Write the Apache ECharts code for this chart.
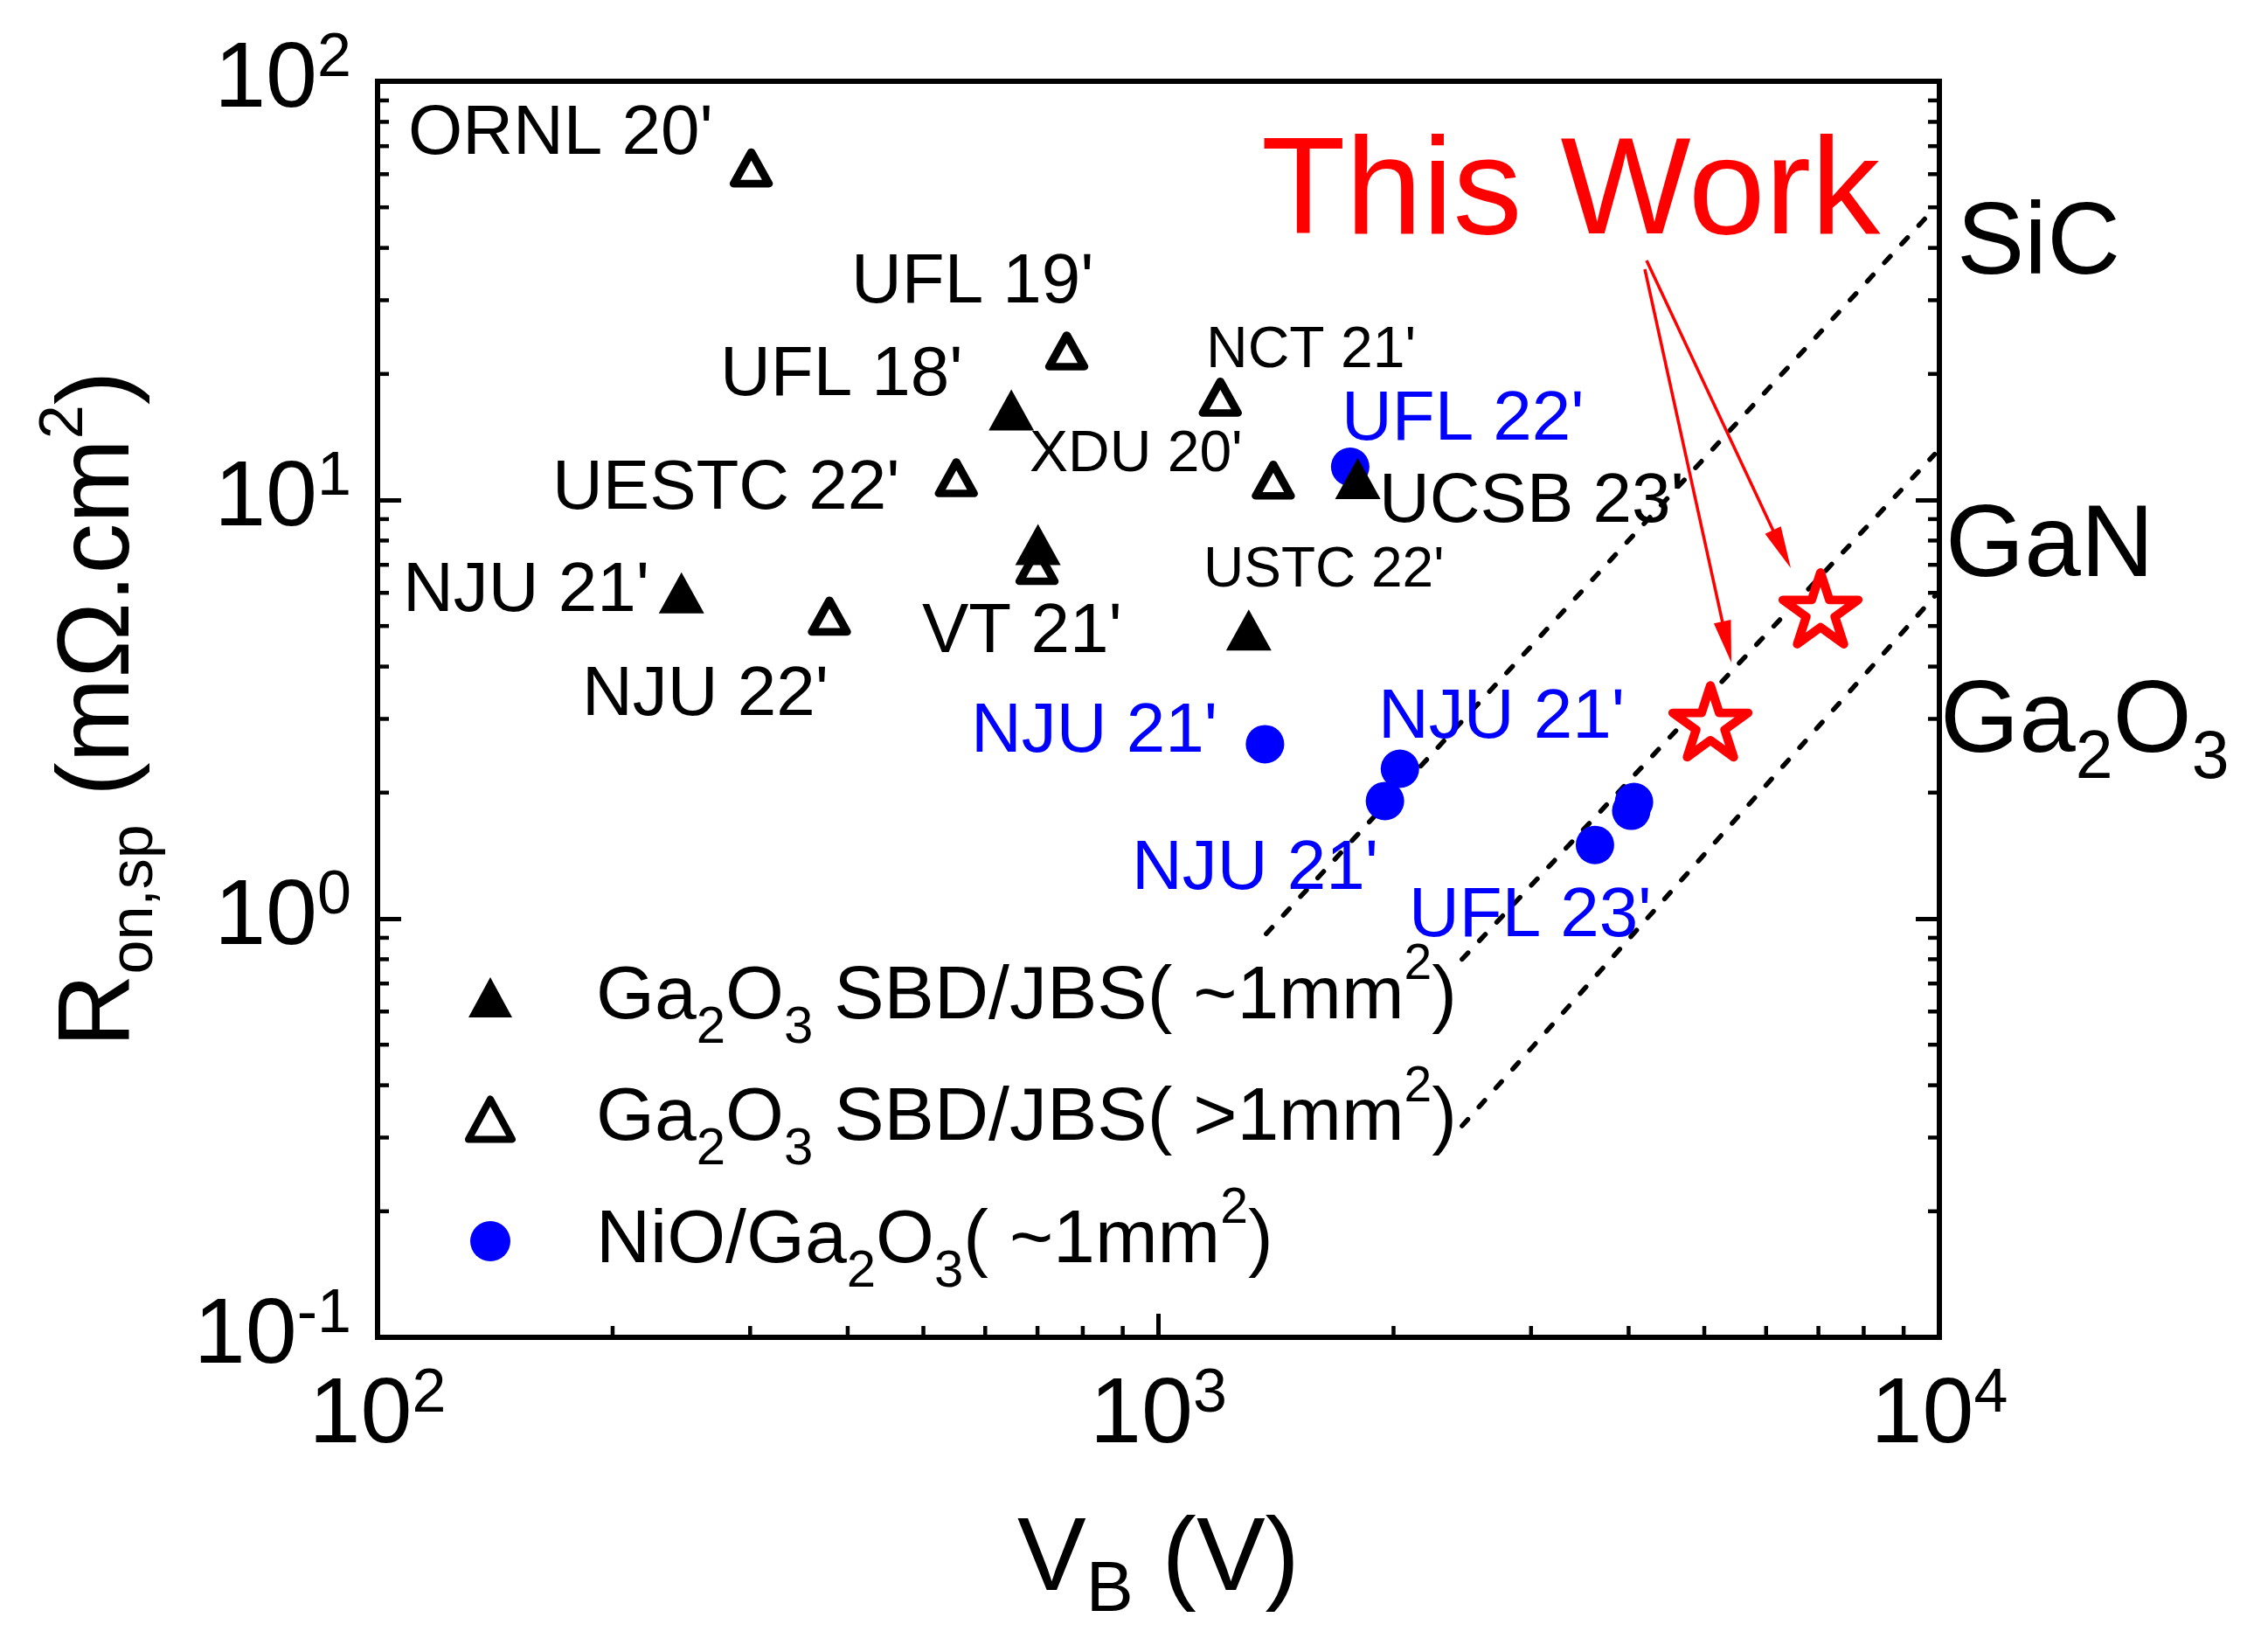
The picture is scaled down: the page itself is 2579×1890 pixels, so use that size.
<!DOCTYPE html>
<html><head><meta charset="utf-8">
<script src="https://cdn.jsdelivr.net/npm/echarts@6/dist/echarts.min.js"></script>
<style>html,body{margin:0;padding:0;background:#fff}#c{width:2579px;height:1890px}</style>
</head><body><div id="c"></div>
<script>
const FONT = '"Liberation Sans", Arial, Helvetica, sans-serif';

// ---------------- data ----------------
const seriesNames = ['Ga\u2082O\u2083 SBD/JBS( ~1mm\u00b2)', 'Ga\u2082O\u2083 SBD/JBS( >1mm\u00b2)', 'NiO/Ga\u2082O\u2083( ~1mm\u00b2)'];
const legendRichText = ['Ga{sub|2}O{sub|3} SBD/JBS( ~1mm{sup|2})', 'Ga{sub|2}O{sub|3} SBD/JBS( >1mm{sup|2})', 'NiO/Ga{sub|2}O{sub|3}( ~1mm{sup|2})'];

// filled triangles: Ga2O3 SBD/JBS (~1mm2)  [NJU21, UFL18, (VT21 area), USTC22, UCSB23]
const filledTriV = [245, 648, 701, 1305, 1800];
const filledTriR = [6.0, 16.4, 7.83, 4.89, 11.25];
// hollow triangles: Ga2O3 SBD/JBS (>1mm2) [ORNL20, UFL19, NCT21, UESTC22, XDU20, VT21, NJU22]
const hollowTriV = [301, 763, 1200, 551, 1403, 699, 379];
const hollowTriR = [62.1, 22.7, 17.6, 11.3, 11.15, 6.97, 5.28];
// NiO/Ga2O3 (~1mm2)
const nioV = [1760, 1369, 2038, 1950, 4064, 4031, 3622];
const nioR = [12.0, 2.61, 2.28, 1.91, 1.90, 1.81, 1.50];
// This work
const thisWorkV = [5091, 7044];
const thisWorkR = [2.96, 5.51];
// material limit lines (end points)
const sicLimitV = [1374, 9607];
const sicLimitR = [0.920, 47.2];
const ganLimitV = [2448, 9863];
const ganLimitR = [0.80, 12.86];
const ga2o3LimitV = [2448, 9863];
const ga2o3LimitR = [0.32, 5.89];

// axis tick values
const xMajorTicks = [100, 1000, 10000];
const yMajorTicks = [0.1, 1, 10, 100];

// ---------------- helpers ----------------
const zip = (a, b) => a.map((v, i) => [v, b[i]]);
function minorValues(ticks) {
  const out = [];
  for (let i = 0; i < ticks.length - 1; i++) {
    for (let k = 2; k <= 9; k++) out.push(parseFloat((ticks[i] * k).toPrecision(6)));
  }
  return out;
}
const xMinor = minorValues(xMajorTicks);
const yMinor = minorValues(yMajorTicks);
const xMin = xMajorTicks[0], xMax = xMajorTicks[xMajorTicks.length - 1];
const yMin = yMajorTicks[0], yMax = yMajorTicks[yMajorTicks.length - 1];
const MINOR_LEN = 13;

const expLabel = v => '{b|10}{s|' + Math.round(Math.log10(v)) + '}';
const tickRich = {
  b: { fontSize: 106, fontFamily: FONT, color: '#000', lineHeight: 120, verticalAlign: 'middle' },
  s: { fontSize: 70, fontFamily: FONT, color: '#000', lineHeight: 56, verticalAlign: 'top' }
};
const lineBase = { color: '#000', width: 6, cap: 'square' };
const starPath = 'path://M50,0L61.23,34.55L97.55,34.55L68.17,55.9L79.39,90.45L50,69.1L20.61,90.45L31.83,55.9L2.45,34.55L38.77,34.55Z';

function limitLine(v, r) {
  return {
    type: 'line', data: zip(v, r), xAxisIndex: 0, yAxisIndex: 0,
    symbol: 'none', showSymbol: false, silent: true, z: 1,
    lineStyle: { color: '#000', width: 5.5, type: [10, 19], cap: 'round' }
  };
}

// annotations [text, left, centerY, fontSize, color]
const annotations = [
  ["ORNL 20'", 467, 148, 80, '#000'],
  ["UFL 19'", 974, 318, 80, '#000'],
  ["UFL 18'", 824, 424, 80, '#000'],
  ["NCT 21'", 1380, 397, 66, '#000'],
  ["UFL 22'", 1535, 475, 80, '#0000FF'],
  ["XDU 20'", 1178, 516, 66, '#000'],
  ["UESTC 22'", 632, 554, 80, '#000'],
  ["UCSB 23'", 1578, 569, 80, '#000'],
  ["NJU 21'", 461, 671, 80, '#000'],
  ["USTC 22'", 1377, 649, 64, '#000'],
  ["VT 21'", 1055, 718, 80, '#000'],
  ["NJU 22'", 666, 790, 80, '#000'],
  ["NJU 21'", 1111, 832, 80, '#0000FF'],
  ["NJU 21'", 1577, 816, 80, '#0000FF'],
  ["NJU 21'", 1295, 989, 80, '#0000FF'],
  ["UFL 23'", 1612, 1043, 80, '#0000FF'],
  ["This Work", 1443, 212, 158, '#FF0000'],
  ["SiC", 2239, 272, 116, '#000'],
  ["GaN", 2226, 618, 116, '#000']
];
const DY = 0.075; // glyph-centre correction for 'middle' alignment

const graphics = annotations.map(a => ({
  type: 'text', z: 100, silent: true,
  style: { text: a[0], x: a[1], y: a[2] + a[3] * DY, fill: a[4], fontSize: a[3], fontFamily: FONT,
           align: 'left', verticalAlign: 'middle', textAlign: 'left', textVerticalAlign: 'middle' }
}));
graphics.push({
  type: 'text', z: 100, silent: true,
  style: {
    text: 'Ga{sub|2}O{sub|3}', x: 2220, y: 819 + 116 * DY, fill: '#000', fontSize: 116, fontFamily: FONT,
    lineHeight: 160, align: 'left', verticalAlign: 'middle', textAlign: 'left', textVerticalAlign: 'middle',
    rich: { sub: { fontSize: 77, fontFamily: FONT, fill: '#000', lineHeight: 62, verticalAlign: 'bottom' } }
  }
});
function arrow(x1, y1, x2, y2) {
  const dx = x2 - x1, dy = y2 - y1, len = Math.hypot(dx, dy);
  const ux = dx / len, uy = dy / len, px = -uy, py = ux;
  const L = 48, W = 10;
  const bx = x2 - ux * L, by = y2 - uy * L;
  return [
    { type: 'line', z: 90, silent: true, shape: { x1: x1, y1: y1, x2: bx + ux * 6, y2: by + uy * 6 },
      style: { stroke: '#FF0000', lineWidth: 3.5 } },
    { type: 'polygon', z: 90, silent: true,
      shape: { points: [[x2, y2], [bx + px * W, by + py * W], [bx - px * W, by - py * W]] },
      style: { fill: '#FF0000' } }
  ];
}
graphics.push(...arrow(1884, 298, 2049, 650));
graphics.push(...arrow(1882, 308, 1981, 758));

const tickStyle = { stroke: '#000', lineWidth: 4.5 };

const option = {
  animation: false,
  backgroundColor: '#fff',
  grid: { left: 432, top: 93, width: 1787, height: 1437, containLabel: false },
  legend: {
    orient: 'vertical', left: 532, top: 1076, padding: 0, selectedMode: false,
    itemWidth: 50, itemHeight: 46, itemGap: 9.5,
    data: [
      { name: seriesNames[0], icon: 'triangle' },
      { name: seriesNames[1], icon: 'triangle',
        itemStyle: { color: '#fff', borderColor: '#000', borderWidth: 8, borderJoin: 'round' } },
      { name: seriesNames[2], icon: 'circle' }
    ],
    formatter: name => legendRichText[seriesNames.indexOf(name)],
    textStyle: {
      fontSize: 86, fontFamily: FONT, color: '#000', lineHeight: 130, padding: [0, 0, 0, 91],
      rich: {
        sub: { fontSize: 60, fontFamily: FONT, color: '#000', lineHeight: 67, verticalAlign: 'bottom' },
        sup: { fontSize: 57, fontFamily: FONT, color: '#000', lineHeight: 77, verticalAlign: 'top' }
      }
    }
  },
  xAxis: [
    {
      type: 'log', logBase: 10, min: xMin, max: xMax, position: 'bottom',
      axisLine: { show: true, onZero: false, lineStyle: lineBase },
      axisTick: { show: true, inside: true, length: 27, lineStyle: { color: '#000', width: 5 } },
      minorTick: { show: false }, splitLine: { show: false },
      axisLabel: { show: true, margin: 31, formatter: expLabel, rich: tickRich, color: '#000',
                   fontSize: 106, fontFamily: FONT, lineHeight: 120,
                   showMinLabel: true, showMaxLabel: true, hideOverlap: false },
      name: 'V{sub|B} (V)', nameLocation: 'middle', nameGap: 181,
      nameTextStyle: { fontSize: 118, fontFamily: FONT, color: '#000', lineHeight: 150,
        rich: { sub: { fontSize: 81, fontFamily: FONT, color: '#000', lineHeight: 61, verticalAlign: 'bottom' } } }
    },
    {
      type: 'log', logBase: 10, min: xMin, max: xMax, position: 'top',
      axisLine: { show: true, onZero: false, lineStyle: lineBase },
      axisTick: { show: false }, axisLabel: { show: false }, splitLine: { show: false }
    }
  ],
  yAxis: [
    {
      type: 'log', logBase: 10, min: yMin, max: yMax, position: 'left',
      axisLine: { show: true, onZero: false, lineStyle: lineBase },
      axisTick: { show: true, inside: true, length: 27, lineStyle: { color: '#000', width: 5 } },
      minorTick: { show: false }, splitLine: { show: false },
      axisLabel: { show: true, margin: 30, formatter: expLabel, rich: tickRich, color: '#000',
                   fontSize: 106, fontFamily: FONT, lineHeight: 120,
                   showMinLabel: true, showMaxLabel: true, hideOverlap: false },
      name: 'R{sub|on,sp} (m\u03a9.cm{sup|2})', nameLocation: 'middle', nameGap: 242, nameRotate: 90,
      nameTextStyle: { fontSize: 116, fontFamily: FONT, color: '#000', lineHeight: 150,
        rich: {
          sub: { fontSize: 70, fontFamily: FONT, color: '#000', lineHeight: 56, verticalAlign: 'bottom' },
          sup: { fontSize: 70, fontFamily: FONT, color: '#000', lineHeight: 82, verticalAlign: 'top' }
        } }
    },
    {
      type: 'log', logBase: 10, min: yMin, max: yMax, position: 'right',
      axisLine: { show: true, onZero: false, lineStyle: lineBase },
      axisTick: { show: true, inside: true, length: 27, lineStyle: { color: '#000', width: 5 } },
      axisLabel: { show: false }, splitLine: { show: false }
    }
  ],
  graphic: graphics,
  series: [
    // minor ticks on the bottom axis (positions through the log scale)
    {
      type: 'custom', xAxisIndex: 0, yAxisIndex: 0, silent: true, z: 5,
      data: xMinor.map(v => [v, yMin]),
      renderItem: (params, api) => {
        const p = api.coord([api.value(0), yMin]);
        return { type: 'line', shape: { x1: p[0], y1: p[1], x2: p[0], y2: p[1] - MINOR_LEN }, style: tickStyle };
      }
    },
    // minor ticks on the left and right axes
    {
      type: 'custom', xAxisIndex: 0, yAxisIndex: 0, silent: true, z: 5,
      data: yMinor.map(v => [xMin, v]),
      renderItem: (params, api) => {
        const v = api.value(1);
        const pl = api.coord([xMin, v]);
        const pr = api.coord([xMax, v]);
        return {
          type: 'group', children: [
            { type: 'line', shape: { x1: pl[0], y1: pl[1], x2: pl[0] + MINOR_LEN, y2: pl[1] }, style: tickStyle },
            { type: 'line', shape: { x1: pr[0], y1: pr[1], x2: pr[0] - MINOR_LEN, y2: pr[1] }, style: tickStyle }
          ]
        };
      }
    },
    limitLine(sicLimitV, sicLimitR),
    limitLine(ganLimitV, ganLimitR),
    limitLine(ga2o3LimitV, ga2o3LimitR),
    {
      name: seriesNames[2], type: 'scatter', xAxisIndex: 0, yAxisIndex: 0,
      data: zip(nioV, nioR), symbol: 'circle', symbolSize: 44,
      itemStyle: { color: '#0000FF', opacity: 1 }
    },
    {
      name: seriesNames[1], type: 'scatter', xAxisIndex: 0, yAxisIndex: 0,
      data: zip(hollowTriV, hollowTriR), symbol: 'triangle', symbolSize: [40, 36],
      itemStyle: { color: '#fff', borderColor: '#000', borderWidth: 9, borderJoin: 'round', opacity: 1 }
    },
    {
      name: seriesNames[0], type: 'scatter', xAxisIndex: 0, yAxisIndex: 0,
      data: zip(filledTriV, filledTriR), symbol: 'triangle', symbolSize: [52, 47],
      itemStyle: { color: '#000', opacity: 1 }
    },
    {
      name: 'This Work', type: 'scatter', xAxisIndex: 0, yAxisIndex: 0,
      data: zip(thisWorkV, thisWorkR), symbol: starPath, symbolSize: [86, 82],
      itemStyle: { color: '#fff', borderColor: '#FF0000', borderWidth: 10, borderJoin: 'round', opacity: 1 }
    }
  ]
};
const chart = echarts.init(document.getElementById('c'), null, { renderer: 'canvas', width: 2579, height: 1890 });
chart.setOption(option);
</script>
</body></html>
